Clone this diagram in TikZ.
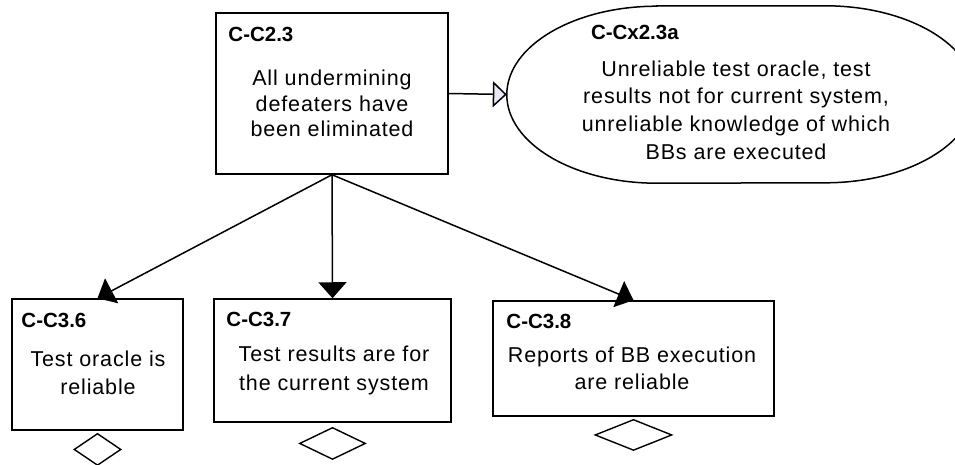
\documentclass[tikz,border=0pt]{standalone}
\usepackage{fontspec}
\setmainfont{Liberation Sans}
\newfontfamily\bodyfont[LetterSpace=4]{Liberation Sans}
\usetikzlibrary{positioning, arrows.meta, shapes.geometric}
\definecolor{ctxfill}{RGB}{232, 232, 248}

\begin{document}
\begin{tikzpicture}[
    x=1pt, y=1pt,
    claim/.style={
        rectangle, draw=black,
        line width=1.5pt, inner sep=0pt,
    },
    ident/.style={
        font=\bfseries\fontsize{20.5}{24}\selectfont,
        inner sep=0pt, anchor=north west,
    },
    body/.style={
        font=\bodyfont\fontsize{21.5}{#1}\selectfont,
        align=center, inner sep=0pt, anchor=north,
    },
    undev/.style={
        diamond, draw=black, line width=1.4pt,
        inner sep=0pt,
    },
    arrow/.style={-{Triangle[length=16pt, width=28pt]}, line width=1.5pt},
    ctxarrow/.style={-{Triangle[length=14pt, width=26pt, fill=ctxfill]}, line width=1.5pt},
    node distance=2pt,
]
\useasboundingbox (0,0) rectangle (955,-465);

% =================================================
% TOP: claim and its context
% =================================================

\node[claim, minimum width=232pt, minimum height=161pt] (c23) at (332,-93.5) {};
\node[ident] (t23) at ([xshift=13pt, yshift=-15pt]c23.north west) {C-C2.3};
\node[body=25.5pt] (b23) at ([yshift=-57.5pt]c23.north) {%
    All undermining\\
    defeaters have\\
    been eliminated};

\node[minimum width=468pt, minimum height=177pt, inner sep=0pt] (cx23a) at (741,-94.5) {};
\draw[line width=1.5pt] ([xshift=150pt]cx23a.north west) -- ([xshift=-150pt]cx23a.north east)
    arc[start angle=90, end angle=-90, x radius=150pt, y radius=88.5pt]
    -- ([xshift=150pt]cx23a.south west)
    arc[start angle=270, end angle=90, x radius=150pt, y radius=88.5pt] -- cycle;
\node[ident] (tx23a) at ([xshift=84pt, yshift=-19pt]cx23a.north west) {C-Cx2.3a};
\node[body=27.7pt] (bx23a) at ([xshift=-5pt, yshift=-54.5pt]cx23a.north) {%
    Unreliable test oracle, test\\
    results not for current system,\\
    unreliable knowledge of which\\
    BBs are executed};

% =================================================
% BOTTOM: sub-claims
% =================================================

\node[claim, minimum width=171pt, minimum height=131pt] (c36) at (97.5,-364.5) {};
\node[ident] (t36) at ([xshift=10pt, yshift=-14.3pt]c36.north west) {C-C3.6};
\node[body=28.4pt] (b36) at ([xshift=0.5pt, yshift=-52pt]c36.north) {%
    Test oracle is\\
    reliable};

\node[claim, minimum width=237pt, minimum height=123pt] (c37) at (332.5,-360.5) {};
\node[ident] (t37) at ([xshift=13pt, yshift=-14pt]c37.north west) {C-C3.7};
\node[body=28.3pt] (b37) at ([xshift=1.5pt, yshift=-47.7pt]c37.north) {%
    Test results are for\\
    the current system};

\node[claim, minimum width=281pt, minimum height=115pt] (c38) at (633.5,-358.5) {};
\node[ident] (t38) at ([xshift=14pt, yshift=-14pt]c38.north west) {C-C3.8};
\node[body=27pt] (b38) at ([xshift=-1.5pt, yshift=-46.5pt]c38.north) {%
    Reports of BB execution\\
    are reliable};

% undeveloped markers
\node[undev, minimum width=47pt, minimum height=32pt, below=of c36] (u36) {};
\node[undev, minimum width=66pt, minimum height=32pt, below=4pt of c37] (u37) {};
\node[undev, minimum width=77pt, minimum height=31pt, below=of c38] (u38) {};

% =================================================
% Connectors
% =================================================
\draw[ctxarrow] (c23.east)  -- (cx23a.west);
\draw[arrow]    (c23.south) -- (c36.north);
\draw[arrow]    (c23.south) -- (c37.north);
\draw[arrow]    (c23.south) -- (c38.north);

\end{tikzpicture}
\end{document}
